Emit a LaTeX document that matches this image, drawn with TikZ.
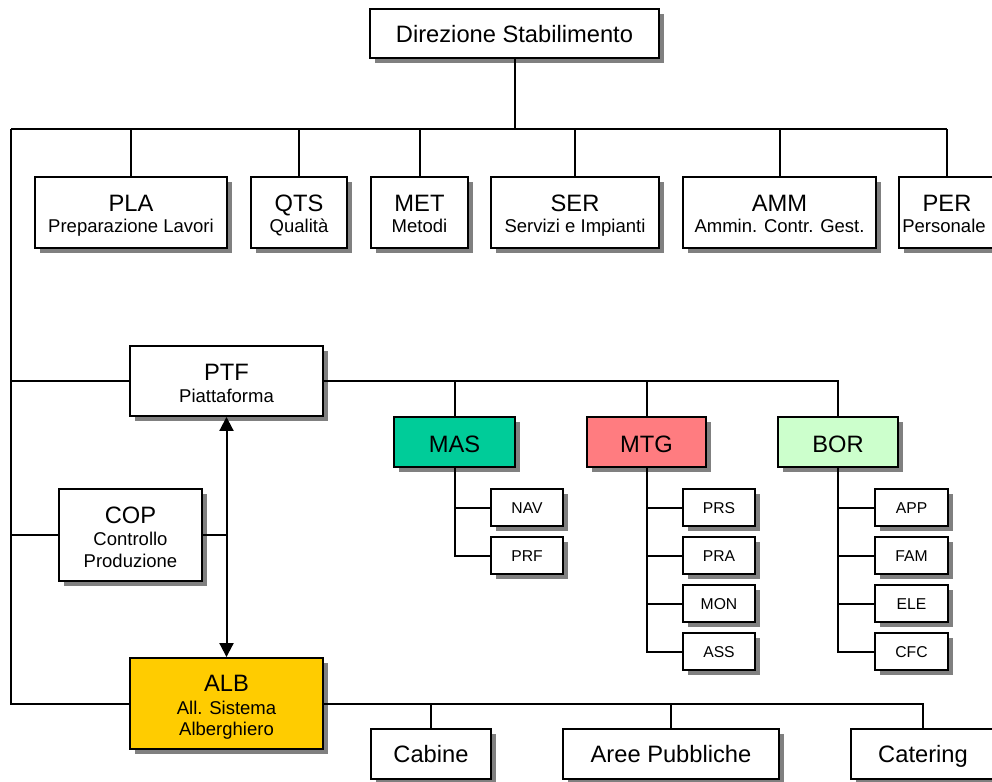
\documentclass[tikz,border=0pt]{standalone}
\usepackage{fontspec}
\setmainfont{Liberation Sans}
\usetikzlibrary{shadows,arrows.meta}
\definecolor{masc}{HTML}{00CC99}
\definecolor{mtgc}{HTML}{FF7C80}
\definecolor{borc}{HTML}{CCFFCC}
\definecolor{albc}{HTML}{FFCC00}
\newcommand{\bigf}{\fontsize{23.7}{26}\selectfont}
\newcommand{\midf}{\fontsize{18.5}{22}\selectfont}
\newcommand{\smlf}{\fontsize{15.7}{18}\selectfont}
% box: [fill]{x1}{y1}{x2}{y2}{name}
\newcommand{\obox}[6][white]{\node[obox, fill=#1, minimum width={(#4)-(#2)}, minimum height={(#5)-(#3)}] (#6) at ({((#2)+(#4))/2},{((#3)+(#5))/2}) {};}
% text: {name}{font}{x}{baseline y}{text}
\newcommand{\otext}[5]{\node[anchor=base, inner sep=0pt, font=#2] (#1) at (#3,#4) {#5};}
\begin{document}
\begin{tikzpicture}[x=1pt,y=-1pt,
  obox/.style={draw, line width=1.9pt, inner sep=0pt,
    drop shadow={shadow xshift=5pt, shadow yshift=-5pt, fill=black!50, opacity=1}},
  conn/.style={line width=2pt},
  tip/.style={line width=2pt, {Triangle[width=14pt,length=14pt]}-{Triangle[width=14pt,length=14pt]}}]
\useasboundingbox[fill=white] (0,0) rectangle (992,781);

% ---- boxes
\obox{370}{9}{659}{58}{dir}
\obox{35}{177}{227}{248}{pla}
\obox{251}{177}{347}{248}{qts}
\obox{371}{177}{468}{248}{met}
\obox{491}{177}{659}{248}{ser}
\obox{683}{177}{876}{248}{amm}
\obox{899}{177}{995}{248}{per}
\obox{130}{346}{323}{416}{ptf}
\obox{59}{489}{202}{581}{cop}
\obox[albc]{130}{658}{323}{749}{alb}
\obox[masc]{394}{417}{515}{467}{mas}
\obox[mtgc]{587}{417}{706}{467}{mtg}
\obox[borc]{778}{417}{898}{467}{bor}
\obox{491}{489}{563}{526}{nav}
\obox{491}{537}{563}{574}{prf}
\obox{683}{489}{755}{526}{prs}
\obox{683}{537}{755}{574}{pra}
\obox{683}{585}{755}{622}{mon}
\obox{683}{633}{755}{670}{ass}
\obox{875}{489}{948}{526}{app}
\obox{875}{537}{948}{574}{fam}
\obox{875}{585}{948}{622}{ele}
\obox{875}{633}{948}{670}{cfc}
\obox{371}{729}{491}{779}{cab}
\obox{563}{729}{779}{779}{aree}
\obox{851}{729}{995}{779}{cat}

% ---- texts
\otext{dirt}{\bigf}{514.5}{43}{Direzione Stabilimento}
\otext{plat}{\bigf}{131}{211}{PLA}
\otext{plas}{\midf}{131}{232}{Preparazione Lavori}
\otext{qtst}{\bigf}{299}{211}{QTS}
\otext{qtss}{\midf}{299}{232}{Qualità}
\otext{mett}{\bigf}{419.5}{211}{MET}
\otext{mets}{\midf}{419.5}{232}{Metodi}
\otext{sert}{\bigf}{575}{211}{SER}
\otext{sers}{\midf}{575}{232}{Servizi e Impianti}
\otext{ammt}{\bigf}{779.5}{211}{AMM}
\otext{amms}{\midf}{779.5}{232}{Ammin. Contr. Gest.}
\otext{pert}{\bigf}{947}{211}{PER}
\otext{pers}{\midf}{944}{232}{Personale}
\otext{ptft}{\bigf}{226.5}{380}{PTF}
\otext{ptfs}{\midf}{226.5}{402}{Piattaforma}
\otext{copt}{\bigf}{130.5}{523}{COP}
\otext{cops}{\midf}{130.5}{545}{Controllo}
\otext{copu}{\midf}{130.5}{567}{Produzione}
\otext{albt}{\bigf}{226.5}{691}{ALB}
\otext{albs}{\midf}{226.5}{714}{All. Sistema}
\otext{albu}{\midf}{226.5}{735}{Alberghiero}
\otext{mast}{\bigf}{454.5}{452}{MAS}
\otext{mtgt}{\bigf}{646.5}{452}{MTG}
\otext{bort}{\bigf}{838}{452}{BOR}
\otext{navt}{\smlf}{527}{513.1}{NAV}
\otext{prft}{\smlf}{527}{561.1}{PRF}
\otext{prst}{\smlf}{719}{513.1}{PRS}
\otext{prat}{\smlf}{719}{561.1}{PRA}
\otext{mont}{\smlf}{719}{609.1}{MON}
\otext{asst}{\smlf}{719}{657.1}{ASS}
\otext{appt}{\smlf}{911.5}{513.1}{APP}
\otext{famt}{\smlf}{911.5}{561.1}{FAM}
\otext{elet}{\smlf}{911.5}{609.1}{ELE}
\otext{cfct}{\smlf}{911.5}{657.1}{CFC}
\otext{cabt}{\bigf}{431}{762}{Cabine}
\otext{areet}{\bigf}{671}{762}{Aree Pubbliche}
\otext{catt}{\bigf}{923}{762}{Catering}

% ---- connectors
\coordinate (tl) at (11,129);
\draw[conn] (dir.south) -- (dir.south |- tl);
\draw[conn] (tl) -- (per.north |- tl);
\foreach \n in {pla,qts,met,ser,amm,per} \draw[conn] (\n.north) -- (\n.north |- tl);
\draw[conn] (tl) -- (tl |- alb.west) -- (alb.west);
\draw[conn] (tl |- ptf.west) -- (ptf.west);
\draw[conn] (tl |- cop.west) -- (cop.west);
\draw[conn] (cop.east) -- (cop.east -| ptf.south);
\draw[conn] (ptf.east) -- (ptf.east -| bor.north) -- (bor.north);
\draw[conn] (mas.north) -- (mas.north |- ptf.east);
\draw[conn] (mtg.north) -- (mtg.north |- ptf.east);
\draw[conn] (mas.south) -- (mas.south |- prf.west) -- (prf.west);
\draw[conn] (mas.south |- nav.west) -- (nav.west);
\draw[conn] (mtg.south) -- (mtg.south |- ass.west) -- (ass.west);
\foreach \n in {prs,pra,mon} \draw[conn] (mtg.south |- \n.west) -- (\n.west);
\draw[conn] (bor.south) -- (bor.south |- cfc.west) -- (cfc.west);
\foreach \n in {app,fam,ele} \draw[conn] (bor.south |- \n.west) -- (\n.west);
\draw[conn] (alb.east) -- (alb.east -| cat.north) -- (cat.north);
\draw[conn] (cab.north) -- (cab.north |- alb.east);
\draw[conn] (aree.north) -- (aree.north |- alb.east);
\draw[tip] (ptf.south) -- (alb.north);
\end{tikzpicture}
\end{document}
